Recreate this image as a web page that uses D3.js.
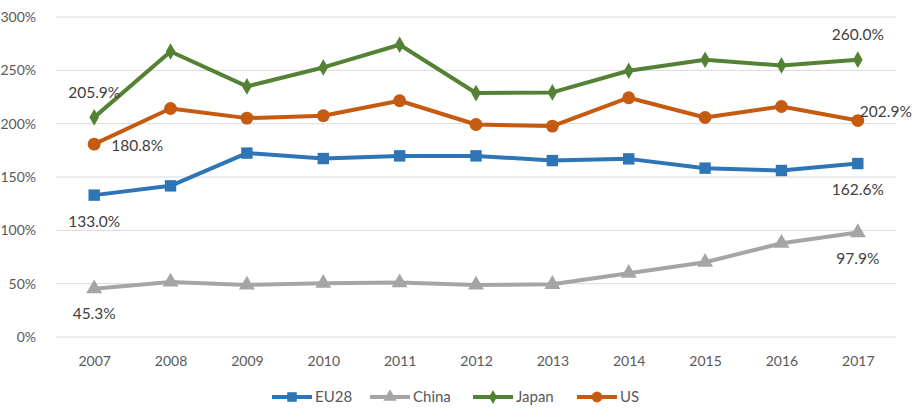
<!DOCTYPE html>
<html>
<head>
<meta charset="utf-8">
<script src="https://cdn.jsdelivr.net/npm/d3@7"></script>
<style>
  body { margin: 0; background: #fff; }
  svg { font-family: Lato, "Open Sans", sans-serif; }
</style>
</head>
<body>
<div id="chart"></div>
<script>
const years = ["2007", "2008", "2009", "2010", "2011", "2012", "2013", "2014", "2015", "2016", "2017"];
const eu28 = [133.0, 141.7, 172.4, 167.3, 169.8, 169.8, 165.4, 167.0, 158.3, 156.1, 162.6];
const china = [45.3, 51.6, 48.8, 50.4, 51.0, 48.8, 49.4, 59.8, 70.1, 87.9, 97.9];
const japan = [205.9, 267.7, 234.9, 252.7, 274.0, 228.7, 229.3, 249.6, 259.9, 254.6, 260.0];
const us = [180.8, 214.2, 205.2, 207.4, 221.5, 199.2, 197.7, 224.3, 205.8, 216.1, 202.9];
const yTicks = [0, 50, 100, 150, 200, 250, 300];

const series = [
  { name: "EU28", values: eu28, color: "#2E75B6", symbol: d3.symbolSquare, size: 130 },
  { name: "China", values: china, color: "#A5A5A5", symbol: d3.symbolTriangle, size: 110 },
  { name: "Japan", values: japan, color: "#548235", symbol: d3.symbolDiamond, size: 80 },
  { name: "US", values: us, color: "#C55A11", symbol: d3.symbolCircle, size: 130 }
];

// labels only on first and last point: [series, index, dx, dy]
const labels = [
  ["EU28", 0, 0, 26], ["EU28", 10, 0, 26],
  ["China", 0, 0, 25], ["China", 10, 0, 26],
  ["Japan", 0, 0, -25], ["Japan", 10, 0, -25],
  ["US", 0, 43, 1], ["US", 10, 28, -9]
];

const width = 916, height = 410;
const marginLeft = 56, marginRight = 20, marginTop = 17, marginBottom = 73;

const svg = d3.select("#chart").append("svg")
  .attr("width", width)
  .attr("height", height);

const x = d3.scalePoint()
  .domain(years)
  .range([marginLeft, width - marginRight])
  .padding(0.5);

const y = d3.scaleLinear()
  .domain([0, 300])
  .range([height - marginBottom, marginTop]);

// gridlines
svg.append("g")
  .selectAll("line")
  .data(yTicks)
  .join("line")
    .attr("x1", marginLeft)
    .attr("x2", width - marginRight)
    .attr("y1", d => y(d))
    .attr("y2", d => y(d))
    .attr("stroke", "#D9D9D9")
    .attr("stroke-width", 1);

// y axis labels
svg.append("g")
  .attr("transform", `translate(${marginLeft - 17},0)`)
  .call(d3.axisLeft(y).tickValues(yTicks).tickFormat(d => d + "%").tickSize(0))
  .call(g => g.select(".domain").remove())
  .call(g => g.selectAll("text")
    .attr("fill", "#595959")
    .attr("font-size", 14)
    .attr("font-family", "Lato, sans-serif"));

// x axis labels
svg.append("g")
  .attr("transform", `translate(0,${height - marginBottom + 16})`)
  .call(d3.axisBottom(x).tickSize(0))
  .call(g => g.select(".domain").remove())
  .call(g => g.selectAll("text")
    .attr("fill", "#595959")
    .attr("font-size", 14)
    .attr("font-family", "Lato, sans-serif"));

const line = d3.line()
  .x((d, i) => x(years[i]))
  .y(d => y(d));

const order = ["China", "EU28", "US", "Japan"];
order.forEach(name => {
  const s = series.find(s => s.name === name);
  const g = svg.append("g");
  g.append("path")
    .datum(s.values)
    .attr("fill", "none")
    .attr("stroke", s.color)
    .attr("stroke-width", 4)
    .attr("stroke-linejoin", "round")
    .attr("d", line);
  g.selectAll("path.m")
    .data(s.values)
    .join("path")
      .attr("class", "m")
      .attr("transform", (d, i) => `translate(${x(years[i])},${y(d)})`)
      .attr("d", d3.symbol(s.symbol, s.size))
      .attr("fill", s.color);
});

// data labels
svg.append("g")
  .selectAll("text")
  .data(labels)
  .join("text")
    .attr("x", d => x(years[d[1]]) + d[2])
    .attr("y", d => y(series.find(s => s.name === d[0]).values[d[1]]) + d[3])
    .attr("dy", "0.35em")
    .attr("text-anchor", "middle")
    .attr("fill", "#404040")
    .attr("font-size", 15.5)
    .text(d => series.find(s => s.name === d[0]).values[d[1]].toFixed(1) + "%");

// legend
const legendX = [272, 370, 473, 577];
const legend = svg.append("g")
  .selectAll("g")
  .data(series)
  .join("g")
    .attr("transform", (d, i) => `translate(${legendX[i]},397)`);
legend.append("line")
  .attr("x1", 0).attr("x2", 40)
  .attr("stroke", d => d.color)
  .attr("stroke-width", 4);
legend.append("path")
  .attr("transform", "translate(20,0)")
  .attr("d", d => d3.symbol(d.symbol, d.size * 0.7)())
  .attr("fill", d => d.color);
legend.append("text")
  .attr("x", 43)
  .attr("dy", "0.35em")
  .attr("fill", "#595959")
  .attr("font-size", 15)
  .text(d => d.name);
</script>
</body>
</html>
